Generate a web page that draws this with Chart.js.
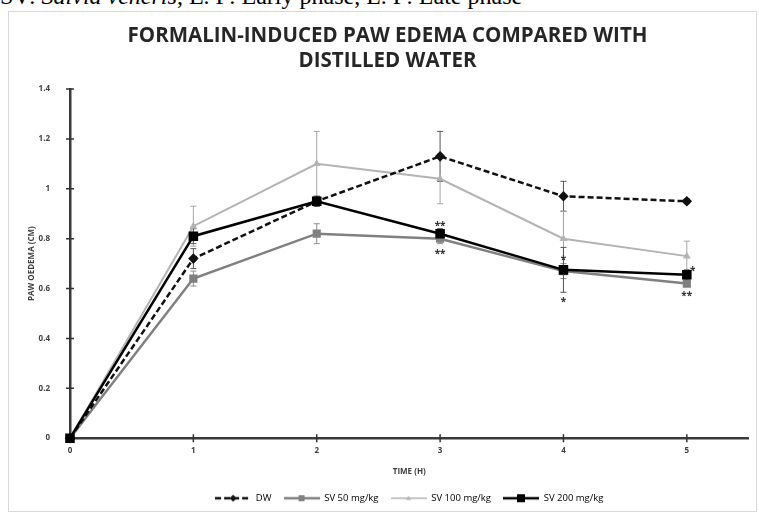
<!DOCTYPE html>
<html>
<head>
<meta charset="utf-8">
<script src="https://cdn.jsdelivr.net/npm/chart.js@4.4.0/dist/chart.umd.min.js"></script>
<style>
  html, body { margin: 0; padding: 0; background: #fff; }
  body { width: 759px; height: 514px; position: relative; overflow: hidden; }
  #caption { position: absolute; left: 0; top: -16px; font: 24px/24px "Liberation Serif", "Times New Roman", serif; color: #000; white-space: nowrap; }
  #frame { position: absolute; left: 8px; top: 11px; width: 747px; height: 499px; border: 1px solid #d9d9d9; }
  #wrap { position: absolute; left: 0; top: 0; width: 747px; height: 499px; }
</style>
</head>
<body>
<div id="caption">SV: <i>Salvia veneris</i>, E. P: Early phase, L. P: Late phase</div>
<div id="frame"><div id="wrap"><canvas id="edemaChart"></canvas></div></div>
<script>
// data
const times = [0, 1, 2, 3, 4, 5];
const seriesNames = ['DW', 'SV 50 mg/kg', 'SV 100 mg/kg', 'SV 200 mg/kg'];
const dwValues = [0, 0.72, 0.95, 1.13, 0.97, 0.95];
const dwErrors = [0, 0.04, 0.02, 0.10, 0.06, 0.01];
const sv50Values = [0, 0.64, 0.82, 0.80, 0.67, 0.62];
const sv50Errors = [0, 0.03, 0.04, 0.02, 0.03, 0.01];
const sv100Values = [0, 0.85, 1.10, 1.04, 0.80, 0.73];
const sv100Errors = [0, 0.08, 0.13, 0.10, 0.11, 0.06];
const sv200Values = [0, 0.81, 0.95, 0.82, 0.675, 0.655];
const sv200Errors = [0, 0.03, 0.02, 0.02, 0.09, 0.02];
const yTicks = [0, 0.2, 0.4, 0.6, 0.8, 1, 1.2, 1.4];
// significance marks: series index, time, text, side
const starNotes = [
  { series: 3, time: 3, text: '**', side: 'above' },
  { series: 1, time: 3, text: '**', side: 'below' },
  { series: 1, time: 4, text: '*', side: 'above' },
  { series: 3, time: 4, text: '*', side: 'below' },
  { series: 3, time: 5, text: '*', side: 'right' },
  { series: 1, time: 5, text: '**', side: 'below' }
];

const toPoints = vals => vals.map((v, i) => ({ x: times[i], y: v }));

// small line+marker icons for the legend
function makeIcon(color, width, dash, marker, size) {
  const c = document.createElement('canvas');
  c.width = 36; c.height = 12;
  const g = c.getContext('2d');
  g.strokeStyle = color; g.lineWidth = width; g.setLineDash(dash);
  g.beginPath(); g.moveTo(0, 6); g.lineTo(36, 6); g.stroke();
  g.setLineDash([]);
  g.fillStyle = color;
  g.beginPath();
  if (marker === 'rect') g.rect(18 - size, 6 - size, size * 2, size * 2);
  else if (marker === 'rectRot') { g.moveTo(18, 6 - size); g.lineTo(18 + size, 6); g.lineTo(18, 6 + size); g.lineTo(18 - size, 6); g.closePath(); }
  else { g.moveTo(18, 6 - size); g.lineTo(18 + size, 6 + size * 0.7); g.lineTo(18 - size, 6 + size * 0.7); g.closePath(); }
  g.fill();
  return c;
}

const errorBars = {
  id: 'errorBars',
  beforeDatasetsDraw(chart) {
    const { ctx, scales: { x, y } } = chart;
    ctx.save();
    chart.data.datasets.forEach(ds => {
      ds.errors.forEach((e, j) => {
        if (!e) return;
        const px = x.getPixelForValue(times[j]);
        const top = y.getPixelForValue(ds.data[j].y + e);
        const bot = y.getPixelForValue(ds.data[j].y - e);
        ctx.strokeStyle = ds.errorColor;
        ctx.lineWidth = 1;
        ctx.beginPath();
        ctx.moveTo(px, top); ctx.lineTo(px, bot);
        ctx.moveTo(px - 3, top); ctx.lineTo(px + 3, top);
        ctx.moveTo(px - 3, bot); ctx.lineTo(px + 3, bot);
        ctx.stroke();
      });
    });
    // cross tick marks on both axes
    ctx.strokeStyle = '#333';
    ctx.lineWidth = 1.5;
    ctx.beginPath();
    y.ticks.forEach(t => {
      const py = y.getPixelForValue(t.value);
      ctx.moveTo(x.left - 4, py); ctx.lineTo(x.left + 4, py);
    });
    x.ticks.forEach(t => {
      const px = x.getPixelForValue(t.value);
      ctx.moveTo(px, y.bottom - 4); ctx.lineTo(px, y.bottom + 4);
    });
    ctx.stroke();
    ctx.restore();
  },
  afterDatasetsDraw(chart) {
    const { ctx, scales: { x, y } } = chart;
    ctx.save();
    ctx.fillStyle = '#333';
    ctx.font = 'bold 10px "Open Sans"';
    ctx.textAlign = 'center';
    ctx.textBaseline = 'middle';
    starNotes.forEach(n => {
      const ds = chart.data.datasets[n.series];
      const j = times.indexOf(n.time);
      const v = ds.data[j].y, e = ds.errors[j];
      let px = x.getPixelForValue(n.time), py;
      if (n.side === 'above') py = y.getPixelForValue(v + e) - 3;
      else if (n.side === 'below') py = y.getPixelForValue(v - e) + 10;
      else { px += 6; py = y.getPixelForValue(v + e) + 1; }
      ctx.fillText(n.text, px, py);
    });
    ctx.restore();
  }
};

const tickFont = { family: 'Open Sans', size: 8, weight: 'bold' };

new Chart(document.getElementById('edemaChart'), {
  type: 'line',
  data: {
    datasets: [
      { label: seriesNames[0], data: toPoints(dwValues), errors: dwErrors, errorColor: '#555',
        borderColor: '#111', backgroundColor: '#111', borderWidth: 2.5, borderDash: [6, 3],
        pointStyle: 'rectRot', pointRadius: 3.5, order: 1,
        icon: makeIcon('#111', 2.5, [6, 3], 'rectRot', 3.5) },
      { label: seriesNames[1], data: toPoints(sv50Values), errors: sv50Errors, errorColor: '#8c8c8c',
        borderColor: '#808080', backgroundColor: '#808080', borderWidth: 2.5,
        pointStyle: 'rect', pointRadius: 4, order: 2,
        icon: makeIcon('#808080', 2.5, [], 'rect', 3) },
      { label: seriesNames[2], data: toPoints(sv100Values), errors: sv100Errors, errorColor: '#a6a6a6',
        borderColor: '#b3b3b3', backgroundColor: '#b3b3b3', borderWidth: 2,
        pointStyle: 'triangle', pointRadius: 2.5, order: 3,
        icon: makeIcon('#b3b3b3', 1.5, [], 'triangle', 2.5) },
      { label: seriesNames[3], data: toPoints(sv200Values), errors: sv200Errors, errorColor: '#555',
        borderColor: '#000', backgroundColor: '#000', borderWidth: 2.5,
        pointStyle: 'rect', pointRadius: 5, order: 0,
        icon: makeIcon('#000', 2.5, [], 'rect', 4) }
    ]
  },
  options: {
    responsive: true,
    maintainAspectRatio: false,
    animation: false,
    events: [],
    clip: false,
    layout: { padding: { left: 16, right: 6, top: 0, bottom: -2 } },
    elements: { line: { tension: 0 }, point: { borderWidth: 0 } },
    scales: {
      x: {
        type: 'linear', min: 0, max: 5.5,
        afterBuildTicks: s => { s.ticks = times.map(t => ({ value: t })); },
        afterFit: s => { s.height = 43.3; },
        grid: { display: false, drawTicks: false },
        border: { color: '#3a3a3a', width: 2.5 },
        ticks: { padding: 8, font: tickFont, color: '#404040' },
        title: { display: true, text: 'TIME (H)', font: tickFont, color: '#404040', padding: { top: 0, bottom: 4.5 } }
      },
      y: {
        min: 0, max: 1.4,
        afterBuildTicks: s => { s.ticks = yTicks.map(t => ({ value: t })); },
        afterFit: s => { s.width = 45; },
        grid: { display: false, drawTicks: false },
        border: { color: '#3a3a3a', width: 2.5 },
        ticks: { padding: 20, font: tickFont, color: '#404040', callback: v => String(+v.toFixed(1)) },
        title: { display: true, text: 'PAW OEDEMA (CM)', font: tickFont, color: '#404040', padding: { top: 2, bottom: 0 } }
      }
    },
    plugins: {
      tooltip: { enabled: false },
      title: {
        display: true,
        text: ['FORMALIN-INDUCED PAW EDEMA COMPARED WITH', 'DISTILLED WATER'],
        font: { family: 'Open Sans', size: 20.5, weight: 'bold', lineHeight: 1.22 },
        color: '#262626',
        padding: { top: 11.5, bottom: 15.5 }
      },
      legend: {
        position: 'bottom',
        fullSize: false,
        labels: {
          usePointStyle: true,
          pointStyleWidth: 36,
          padding: 12,
          color: '#7f7f7f',
          font: { family: 'Open Sans', size: 9.5 },
          generateLabels: chart => chart.data.datasets.map((ds, i) => ({
            text: ds.label, pointStyle: ds.icon, datasetIndex: i,
            fillStyle: ds.borderColor, strokeStyle: ds.borderColor, lineWidth: 0, hidden: false
          }))
        }
      }
    }
  },
  plugins: [errorBars]
});
</script>
</body>
</html>
